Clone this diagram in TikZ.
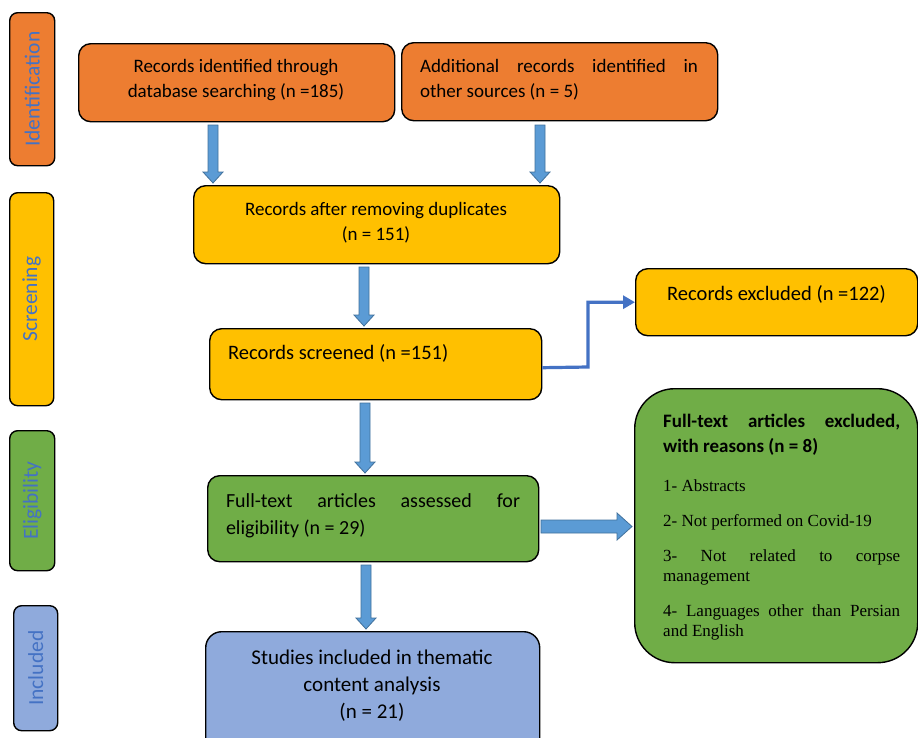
\documentclass[tikz,border=0pt]{standalone}
\usepackage{fontspec}
\setmainfont{Carlito}
\newfontfamily\tnr{Liberation Serif}
\usetikzlibrary{calc,arrows.meta}
\definecolor{orangeF}{HTML}{ED7D31}
\definecolor{yellowF}{HTML}{FFC000}
\definecolor{greenF}{HTML}{70AD47}
\definecolor{blueF}{HTML}{8FAADC}
\definecolor{arrowF}{HTML}{5B9BD5}
\definecolor{arrowD}{HTML}{41719C}
\definecolor{elbowC}{HTML}{4472C4}
\definecolor{sideT}{HTML}{4472C4}
\newcommand\darrow[2]{%
  \draw[barrow] ($(#1)+(-5,0)$) -- ($(#2)+(-5,-11)$) -- ($(#2)+(-10,-11)$) -- (#2)
    -- ($(#2)+(10,-11)$) -- ($(#2)+(5,-11)$) -- ($(#1)+(5,0)$) -- cycle;}
\newcommand\rarrow[2]{%
  \draw[barrow] ($(#1)+(0,-6.5)$) -- ($(#2)+(-15,-6.5)$) -- ($(#2)+(-15,-13.5)$) -- (#2)
    -- ($(#2)+(-15,13.5)$) -- ($(#2)+(-15,6.5)$) -- ($(#1)+(0,6.5)$) -- cycle;}
\begin{document}
\begin{tikzpicture}[x=1pt,y=-1pt,
  box/.style={draw=black, line width=1.4pt, rounded corners=12pt, inner sep=0pt, anchor=north west},
  sidebox/.style={box, rounded corners=8pt},
  sidelabel/.style={rotate=90, text=sideT, font=\fontsize{21.5}{26}\selectfont, inner sep=0pt},
  txt/.style={inner sep=0pt, text=black},
  barrow/.style={draw=arrowD, fill=arrowF, line width=0.8pt, line join=miter},
  elbow/.style={draw=elbowC, line width=3.2pt, -{Triangle[length=12pt,width=13pt]}}]
\clip (0,0) rectangle (918,737);
\fill[white] (0,0) rectangle (918,737);
% side boxes
\node[sidebox, fill=orangeF, minimum width=45pt, minimum height=153pt] (s1) at (9,12) {};
\node[sidebox, fill=yellowF, minimum width=44pt, minimum height=213pt] (s2) at (9,192) {};
\node[sidebox, fill=greenF, minimum width=45pt, minimum height=140pt] (s3) at (9,430) {};
\node[sidebox, fill=blueF, minimum width=44pt, minimum height=125pt] (s4) at (13,605) {};
\node[sidelabel] (l1) at (s1.center) {Identification};
\node[sidelabel] (l2) at (s2.center) {Screening};
\node[sidelabel] (l3) at (s3.center) {Eligibility};
\node[sidelabel] (l4) at (s4.center) {Included};
% main boxes
\node[box, fill=orangeF, minimum width=316pt, minimum height=78pt] (b1) at (78,43) {};
\node[box, fill=orangeF, minimum width=316pt, minimum height=78pt] (b2) at (401,42) {};
\node[box, fill=yellowF, minimum width=366pt, minimum height=78pt] (b3) at (193,185) {};
\node[box, fill=yellowF, minimum width=332pt, minimum height=71pt] (b4) at (209,328) {};
\node[box, fill=yellowF, minimum width=282pt, minimum height=67pt] (b5) at (635,268) {};
\node[box, fill=greenF, minimum width=331pt, minimum height=86pt] (b6) at (207,475) {};
\node[box, fill=greenF, rounded corners=40pt, minimum width=283pt, minimum height=274pt] (b7) at (634,388) {};
\node[box, fill=blueF, rounded corners=16pt, minimum width=334pt, minimum height=130pt] (b8) at (205,631) {};
% texts
\node[txt, align=center, font=\fontsize{19}{25}\selectfont] (t1) at (236,80) {Records identified through\\database searching (n =185)};
\node[txt, align=flush left, text width=278pt, font=\fontsize{19}{25}\selectfont] (t2) at (559,80) {Additional\hfill records\hfill identified\hfill in\\other sources (n = 5)};
\node[txt, align=center, font=\fontsize{19}{25}\selectfont] (t3) at (376,223) {Records after removing duplicates\\(n = 151)};
\node[txt, anchor=west, font=\fontsize{20.5}{25}\selectfont] (t4) at (228,353) {Records screened (n =151)};
\node[txt, anchor=west, font=\fontsize{20.5}{25}\selectfont] (t5) at (667,294) {Records excluded (n =122)};
\node[txt, align=flush left, text width=294pt, font=\fontsize{20}{27}\selectfont] (t6) at (373,516) {Full-text\hfill articles\hfill assessed\hfill for\\eligibility (n = 29)};
\node[txt, anchor=north west, align=flush left, text width=237pt] (t7) at (663,414) {%
  \fontsize{19}{25}\selectfont\bfseries Full-text\hfill articles\hfill excluded,\\with reasons (n = 8)\par
  \vspace{19pt}\tnr\mdseries\fontsize{17}{20}\selectfont 1- Abstracts\par
  \vspace{15pt}2- Not performed on Covid-19\par
  \vspace{15pt}3-\hfill Not\hfill related\hfill to\hfill corpse\\management\par
  \vspace{15pt}4-\hfill Languages\hfill other\hfill than\hfill Persian\\and English\par};
\node[txt, align=center, font=\fontsize{21}{27}\selectfont] (t8) at (372,686) {Studies included in thematic\\content analysis\\(n = 21)};
% arrow coordinates
\coordinate (a1s) at (213,125); \coordinate (a1e) at (213,183);
\coordinate (a2s) at (540,125); \coordinate (a2e) at (540,183);
\coordinate (a3s) at (364,267); \coordinate (a3e) at (364,326);
\coordinate (a4s) at (365,403); \coordinate (a4e) at (365,473);
\coordinate (a5s) at (366,565); \coordinate (a5e) at (366,629);
\coordinate (a6s) at (541,526.5); \coordinate (a6e) at (632,526.5);
\darrow{a1s}{a1e}
\darrow{a2s}{a2e}
\darrow{a3s}{a3e}
\darrow{a4s}{a4e}
\darrow{a5s}{a5e}
\rarrow{a6s}{a6e}
\coordinate (eb) at (588,367);
\draw[elbow] ([yshift=-3.5pt]b4.east) -- (eb) |- (b5.west);
\end{tikzpicture}
\end{document}
